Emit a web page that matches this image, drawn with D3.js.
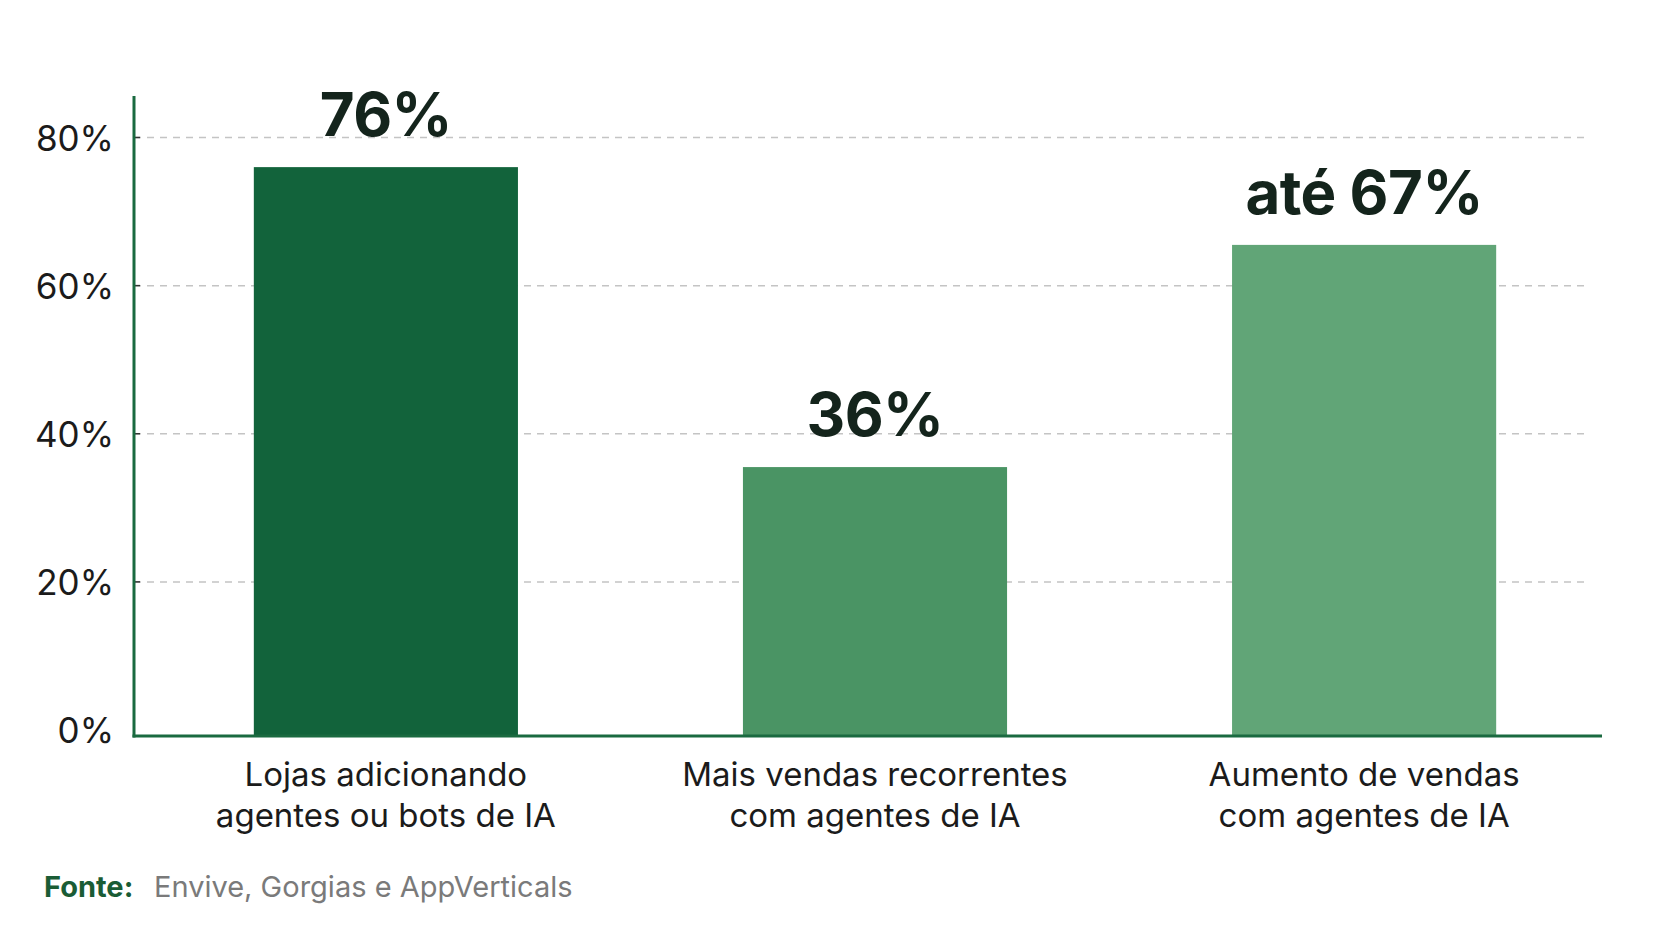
<!DOCTYPE html>
<html>
<head>
<meta charset="utf-8">
<script src="https://cdn.jsdelivr.net/npm/d3@7"></script>
<style>
  body { margin: 0; background: #fff; }
  svg { display: block; font-family: Inter, "Noto Sans", sans-serif; }
</style>
</head>
<body>
<svg></svg>
<script>
const width = 1672;
const height = 941;

// data
const categories = [
    ['Lojas adicionando', 'agentes ou bots de IA'],
    ['Mais vendas recorrentes', 'com agentes de IA'],
    ['Aumento de vendas', 'com agentes de IA']
];
const values = [76, 35.5, 65.5];
const valueLabels = ['76%', '36%', 'até 67%'];
const barColors = ['#12633b', '#4a9464', '#61a577'];
const yTicks = [0, 20, 40, 60, 80];

const svg = d3.select('svg')
    .attr('width', width)
    .attr('height', height);

const x = d3.scaleBand()
    .domain(d3.range(categories.length))
    .range([156, 1594])
    .paddingInner(0.46)
    .paddingOuter(0.2);

const y = d3.scaleLinear()
    .domain([0, 80])
    .range([730, 137.5]);

const axisX = 134;
const baseY = 736;

// gridlines
svg.append('g')
    .selectAll('line')
    .data(yTicks.filter(d => d > 0))
    .enter().append('line')
    .attr('x1', axisX)
    .attr('x2', 1590)
    .attr('y1', d => y(d))
    .attr('y2', d => y(d))
    .attr('stroke', '#c4c4c4')
    .attr('stroke-width', 1.5)
    .attr('stroke-dasharray', '7,6');

// small ticks
svg.append('g')
    .selectAll('line')
    .data(yTicks.filter(d => d > 0))
    .enter().append('line')
    .attr('x1', axisX)
    .attr('x2', axisX + 6)
    .attr('y1', d => y(d))
    .attr('y2', d => y(d))
    .attr('stroke', '#333')
    .attr('stroke-width', 1.5);

// y axis labels
const yAxis = svg.append('g')
    .attr('transform', `translate(${axisX},0)`)
    .call(d3.axisLeft(y).tickValues(yTicks).tickSize(0).tickPadding(20).tickFormat(d => d + '%'));
yAxis.select('.domain').remove();
yAxis.selectAll('text')
    .attr('dy', '0.36em')
    .style('font-family', 'Inter, sans-serif')
    .style('font-size', '35px')
    .style('fill', '#1b1b1b');

// bars
svg.append('g')
    .selectAll('rect')
    .data(values)
    .enter().append('rect')
    .attr('x', (d, i) => x(i))
    .attr('y', d => y(d))
    .attr('width', x.bandwidth())
    .attr('height', d => baseY - y(d))
    .attr('fill', (d, i) => barColors[i]);

// value labels
svg.append('g')
    .selectAll('text')
    .data(values)
    .enter().append('text')
    .attr('x', (d, i) => x(i) + x.bandwidth() / 2)
    .attr('y', d => y(d) - 31)
    .attr('text-anchor', 'middle')
    .style('font-size', '60px')
    .style('font-weight', 700)
    .style('letter-spacing', '-0.5px')
    .style('fill', '#14241c')
    .text((d, i) => valueLabels[i]);

// axis lines
svg.append('line')
    .attr('x1', axisX).attr('x2', axisX)
    .attr('y1', 96).attr('y2', baseY + 1.5)
    .attr('stroke', '#1a6a40')
    .attr('stroke-width', 3);
svg.append('line')
    .attr('x1', axisX - 1.5).attr('x2', 1602)
    .attr('y1', baseY).attr('y2', baseY)
    .attr('stroke', '#1a6a40')
    .attr('stroke-width', 3);

// category labels
const catLabels = svg.append('g')
    .selectAll('text')
    .data(categories)
    .enter().append('text')
    .attr('x', (d, i) => x(i) + x.bandwidth() / 2)
    .attr('y', 786)
    .attr('text-anchor', 'middle')
    .style('font-size', '33px')
    .style('fill', '#1b1b1b');
catLabels.selectAll('tspan')
    .data(d => d)
    .enter().append('tspan')
    .attr('x', function() { return d3.select(this.parentNode).attr('x'); })
    .attr('dy', (d, i) => i === 0 ? 0 : 40.5)
    .text(d => d);

// source
const src = svg.append('text')
    .attr('x', 44)
    .attr('y', 897)
    .style('font-size', '29px');
src.append('tspan')
    .style('font-weight', 700)
    .style('fill', '#1a5c35')
    .text('Fonte:');
src.append('tspan')
    .attr('x', 154)
    .style('fill', '#7a7a7a')
    .text('Envive, Gorgias e AppVerticals');
</script>
</body>
</html>
